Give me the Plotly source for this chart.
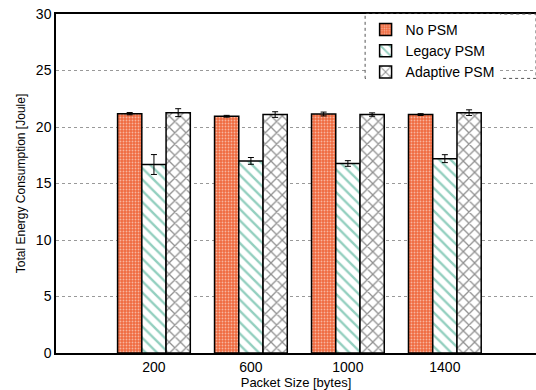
import plotly.graph_objects as go

categories = ["200", "600", "1000", "1400"]
no_psm = [21.18, 20.95, 21.15, 21.1]
no_psm_err = [0.1, 0.08, 0.17, 0.08]
legacy_psm = [16.68, 17.0, 16.77, 17.2]
legacy_psm_err = [0.88, 0.3, 0.25, 0.35]
adaptive_psm = [21.27, 21.1, 21.1, 21.27]
adaptive_psm_err = [0.35, 0.25, 0.15, 0.25]

x = list(range(len(categories)))

font_family = "Liberation Sans, Arial, Helvetica, sans-serif"

def err(v):
    return dict(type="data", array=v, visible=True, color="black", thickness=1, width=3)

fig = go.Figure()
fig.add_trace(go.Bar(
    name="No PSM", x=x, y=no_psm, error_y=err(no_psm_err),
    marker=dict(color="#ef6a3f", line=dict(color="black", width=1.5),
                pattern=dict(shape=".", fgcolor="white", bgcolor="#ef6a3f", size=3, solidity=0.3)),
))
fig.add_trace(go.Bar(
    name="Legacy PSM", x=x, y=legacy_psm, error_y=err(legacy_psm_err),
    marker=dict(color="white", line=dict(color="black", width=1.5),
                pattern=dict(shape="\\", fgcolor="#28a080", bgcolor="white", size=8, solidity=0.3)),
))
fig.add_trace(go.Bar(
    name="Adaptive PSM", x=x, y=adaptive_psm, error_y=err(adaptive_psm_err),
    marker=dict(color="white", line=dict(color="black", width=1.5),
                pattern=dict(shape="x", fgcolor="#222222", bgcolor="white", size=8, solidity=0.3)),
))

fig.update_layout(
    width=536, height=390,
    margin=dict(l=56, r=0, t=14, b=37),
    paper_bgcolor="white", plot_bgcolor="white",
    barmode="group", bargap=0.25, bargroupgap=0,
    font=dict(family=font_family, color="black", size=14),
    showlegend=True,
    legend=dict(x=0.645, xanchor="left", y=1, yanchor="top",
                bgcolor="rgba(255,255,255,1)", borderwidth=0,
                font=dict(size=14), tracegroupgap=0, itemwidth=30),
    shapes=[dict(type="rect", xref="paper", yref="paper", x0=0.644, x1=1.0, y0=0.81, y1=1.0,
                 line=dict(color="#555", width=1, dash="dot"), layer="above")],
)
fig.update_xaxes(
    tickmode="array", tickvals=x, ticktext=categories,
    range=[-1.01, 3.94], showgrid=False, zeroline=False,
    showline=True, linecolor="black", linewidth=1.5, mirror=True,
    ticks="", tickfont=dict(size=14), automargin=False,
    title=dict(text="Packet Size [bytes]", font=dict(size=13), standoff=0),
)
fig.update_yaxes(
    range=[0, 30], dtick=5, showgrid=True, gridcolor="#999", griddash="dot", gridwidth=1,
    zeroline=False, showline=True, linecolor="black", linewidth=1.5, mirror=False,
    ticks="", tickfont=dict(size=14), automargin=False,
    title=dict(text="Total Energy Consumption [Joule]", font=dict(size=12), standoff=8),
)

fig.write_html("out.html", config={"displayModeBar": False},
               post_script="document.body.style.margin='0';")
